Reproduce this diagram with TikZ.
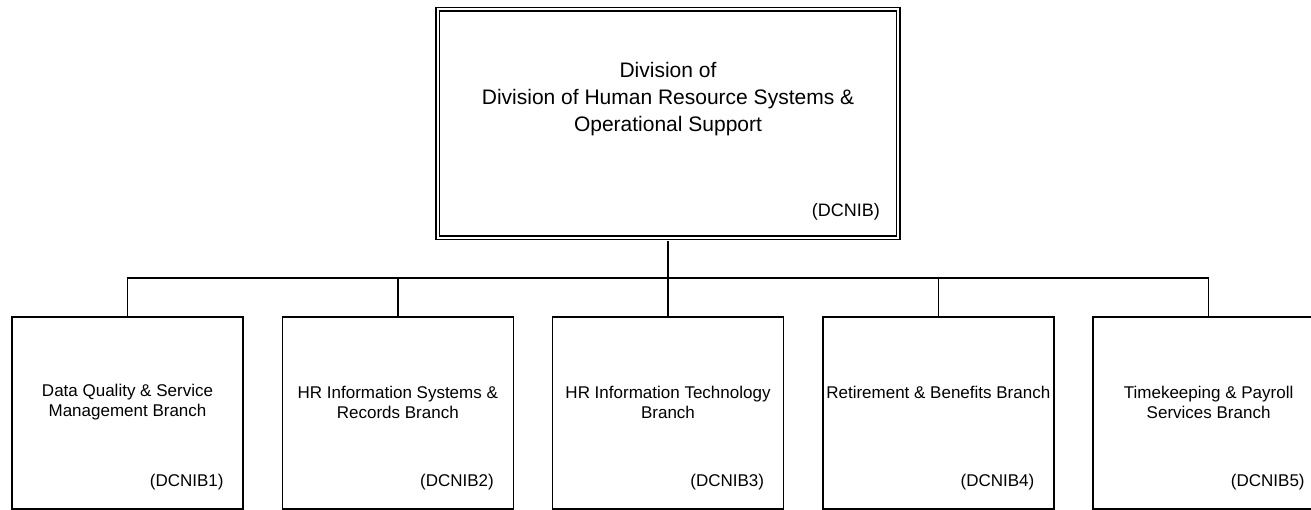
\documentclass[tikz,border=0pt]{standalone}
\usepackage{fontspec}
\setmainfont{Liberation Sans}
\begin{document}
\begin{tikzpicture}[x=1pt,y=-1pt,
  unitbox/.style={draw, line width=1.5pt, inner sep=0pt, minimum width=231pt, minimum height=192pt},
  headbox/.style={draw, double, double distance=1.8pt, line width=1.5pt, inner sep=0pt, minimum width=460.6pt, minimum height=228.6pt},
  headtext/.style={align=center, inner sep=0pt, font=\fontsize{21}{27}\selectfont},
  unittext/.style={align=center, inner sep=0pt, font=\fontsize{17}{20}\selectfont},
  codetext/.style={anchor=east, inner sep=0pt, font=\fontsize{17}{20}\selectfont},
  headcode/.style={anchor=east, inner sep=0pt, font=\fontsize{18}{22}\selectfont},
  link/.style={line width=1.5pt}]
\useasboundingbox (0,0) rectangle (1311,509);
\clip (0,0) rectangle (1311,509);

\node[headbox] (top) at (668,123.5) {};
\node[headtext] (toplabel) at (668,99) {Division of\\Division of Human Resource Systems \&\\Operational Support};
\node[headcode] (topcode) at (880,212) {(DCNIB)};

\node[unitbox] (c1) at (127.5,413) {};
\node[unitbox] (c2) at (397.8,413) {};
\node[unitbox] (c3) at (668,413) {};
\node[unitbox] (c4) at (938.3,413) {};
\node[unitbox] (c5) at (1208.6,413) {};

\node[unittext] (t1) at (127.5,402) {Data Quality \& Service\\Management Branch};
\node[unittext] (t2) at (397.8,402) {HR Information Systems \&\\Records Branch};
\node[unittext] (t3) at (668,402) {HR Information Technology\\Branch};
\node[unittext] (t4) at (938.3,392.5) {Retirement \& Benefits Branch};
\node[unittext] (t5) at (1208.6,402) {Timekeeping \& Payroll\\Services Branch};

\node[codetext] (k1) at ([xshift=-20pt]c1.east |- 0,482) {(DCNIB1)};
\node[codetext] (k2) at ([xshift=-20pt]c2.east |- 0,482) {(DCNIB2)};
\node[codetext] (k3) at ([xshift=-20pt]c3.east |- 0,482) {(DCNIB3)};
\node[codetext] (k4) at ([xshift=-20pt]c4.east |- 0,482) {(DCNIB4)};
\node[codetext] (k5) at ([xshift=-20pt]c5.east |- 0,482) {(DCNIB5)};

\coordinate (bus) at (668,278);
\draw[link] ([yshift=-2.4pt]top.south) -- (bus);
\draw[link] (c1.north) -- (c1.north |- bus) -- (c5.north |- bus) -- (c5.north);
\draw[link] (c2.north) -- (c2.north |- bus);
\draw[link] (c3.north) -- (c3.north |- bus);
\draw[link] (c4.north) -- (c4.north |- bus);
\end{tikzpicture}
\end{document}
